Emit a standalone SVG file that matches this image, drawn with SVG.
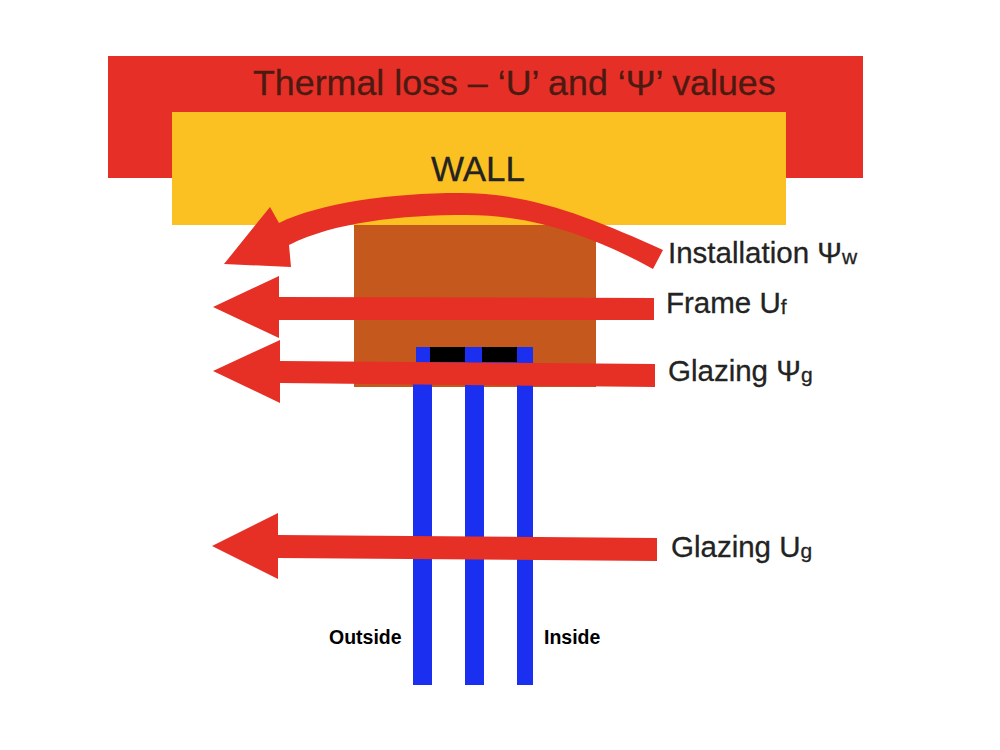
<svg xmlns="http://www.w3.org/2000/svg" width="1000" height="750" viewBox="0 0 1000 750">
<style>
text{font-family:"Liberation Sans",Arial,sans-serif;fill:#232323;stroke:#232323;stroke-width:.3px}
.l{font-size:29.5px}
.s{font-size:21px}
.b{font-size:19.5px;font-weight:bold;fill:#000;stroke:none}
.a{fill:#e62f25}
.g{fill:#1a2ff0}
</style>
<rect width="1000" height="750" fill="#fff"/>
<g id="roof"><rect x="108" y="56" width="755" height="122" fill="#e63027"/><text x="253" y="95" font-size="35.8" style="fill:#4d1a12;stroke:#4d1a12">Thermal loss – ‘U’ and ‘Ψ’ values</text></g>
<g id="wall"><rect x="172" y="112" width="614" height="113" fill="#fbc021"/><text x="431" y="181" font-size="35">WALL</text></g>
<g id="frame"><rect x="354" y="225" width="242" height="162" fill="#c5581d"/></g>
<g id="glazing">
<rect class="g" x="413" y="362" width="19" height="323"/>
<rect class="g" x="465" y="362" width="19" height="323"/>
<rect class="g" x="517" y="362" width="16" height="323"/>
<rect class="g" x="416" y="347" width="117" height="16"/>
<rect x="430" y="347" width="35" height="15" fill="#000"/>
<rect x="482" y="347" width="35" height="15" fill="#000"/>
</g>
<g id="connectors">
<path class="a" d="M663 250C590 217 530 193 460 193C390 193 320 203 279 223L270 207L224 264L291 267L289 245C335 222 400 215 467 215C540 215 600 240 653 269Z"/>
<path class="a" d="M654 298L279 297V276L213 307L279 338V320L654 320Z"/>
<path class="a" d="M655 364L280 361V340L213 371L280 403V383L655 387Z"/>
<path class="a" d="M657 538L278 535V513L212 546L278 579V558L657 561Z"/>
</g>
<g id="labels">
<text class="l" x="668" y="263">Installation Ψ<tspan class="s" dy="1">w</tspan></text>
<text class="l" x="666" y="313">Frame U<tspan class="s" dy="1">f</tspan></text>
<text class="l" x="668" y="381">Glazing Ψ<tspan class="s" dy="1">g</tspan></text>
<text class="l" x="671" y="557">Glazing U<tspan class="s" dy="1">g</tspan></text>
<text class="b" x="329" y="644">Outside</text>
<text class="b" x="544" y="644">Inside</text>
</g>
</svg>
